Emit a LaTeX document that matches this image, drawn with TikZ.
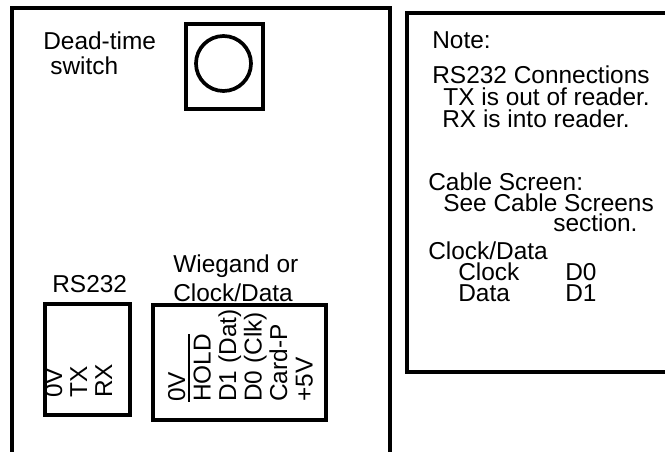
\documentclass[tikz,border=0pt]{standalone}
\usepackage{fontspec}
\setmainfont{Liberation Sans}
\usetikzlibrary{positioning}
\newcommand\ovl[1]{\setbox0\hbox{#1}\rlap{\rule[\dimexpr\ht0+2.2pt\relax]{\wd0}{1pt}}\box0}

\begin{document}
\begin{tikzpicture}[
    txt/.style={anchor=base west, inner sep=0pt, text height=10.2pt, text depth=0pt, font=\fontsize{13.9}{15}\selectfont},
    pin/.style={txt, rotate=90},
    outline/.style={line width=2.2pt},
    partbox/.style={draw, line width=2.1pt}
]
\useasboundingbox (0,0) rectangle (13.3,-9.04);
% reader board and note panel
\draw[outline] (0.24,-9.2) -- (0.24,-0.16) -- (7.8,-0.16) -- (7.8,-9.2);
\draw[outline] (13.5,-0.26) -- (8.14,-0.26) -- (8.14,-7.44) -- (13.5,-7.44);

% dead-time switch
\node[partbox, minimum width=1.54cm, minimum height=1.7cm] (sw) at (4.49,-1.33) {};
\node[partbox, circle, minimum size=1.1cm] (knob) at (4.47,-1.27) {};
\node[txt] (dead) at (0.86,-1.0) {Dead-time};
\node[txt] (swtxt) at (1.0,-1.5) {switch};

% RS232 connector
\node[txt] (rslbl) at (1.04,-5.86) {RS232};
\node[partbox, minimum width=1.7cm, minimum height=2.22cm] (rs) at (1.75,-7.19) {};
\node[pin] (rs0v) at (1.24,-7.96) {0V};
\node[pin] (rstx) at (1.74,-7.96) {TX};
\node[pin] (rsrx) at (2.24,-7.96) {RX};

% Wiegand connector
\node[txt] (wglbl) at (3.46,-5.46) {Wiegand or};
\node[txt] (cdlbl) at (3.46,-6.04) {Clock/Data};
\node[partbox, line width=2.3pt, minimum width=3.46cm, minimum height=2.3cm] (wg) at (4.79,-7.25) {};
\node[pin] (wg0v) at (3.70,-8.04) {0V};
\node[pin] (wghold) at (4.21,-8.04) {\ovl{HOLD}};
\node[pin] (wgd1) at (4.72,-8.04) {D1 (Dat)};
\node[pin] (wgd0) at (5.23,-8.04) {D0 (Clk)};
\node[pin] (wgcard) at (5.74,-8.04) {Card-P};
\node[pin] (wg5v) at (6.25,-8.04) {+5V};

% notes
\node[txt] (note) at (8.64,-0.98) {Note:};
\node[txt] (n1) at (8.64,-1.68) {RS232 Connections};
\node[txt] (n2) at (8.86,-2.12) {TX is out of reader.};
\node[txt] (n3) at (8.84,-2.56) {RX is into reader.};
\node[txt] (n4) at (8.56,-3.82) {Cable Screen:};
\node[txt] (n5) at (8.86,-4.24) {See Cable Screens};
\node[txt] (n6) at (11.06,-4.64) {section.};
\node[txt] (n7) at (8.56,-5.20) {Clock/Data};
\node[txt] (n8) at (9.16,-5.62) {Clock};
\node[txt] (n9) at (11.3,-5.62) {D0};
\node[txt] (n10) at (9.16,-6.04) {Data};
\node[txt] (n11) at (11.3,-6.04) {D1};
\end{tikzpicture}
\end{document}
